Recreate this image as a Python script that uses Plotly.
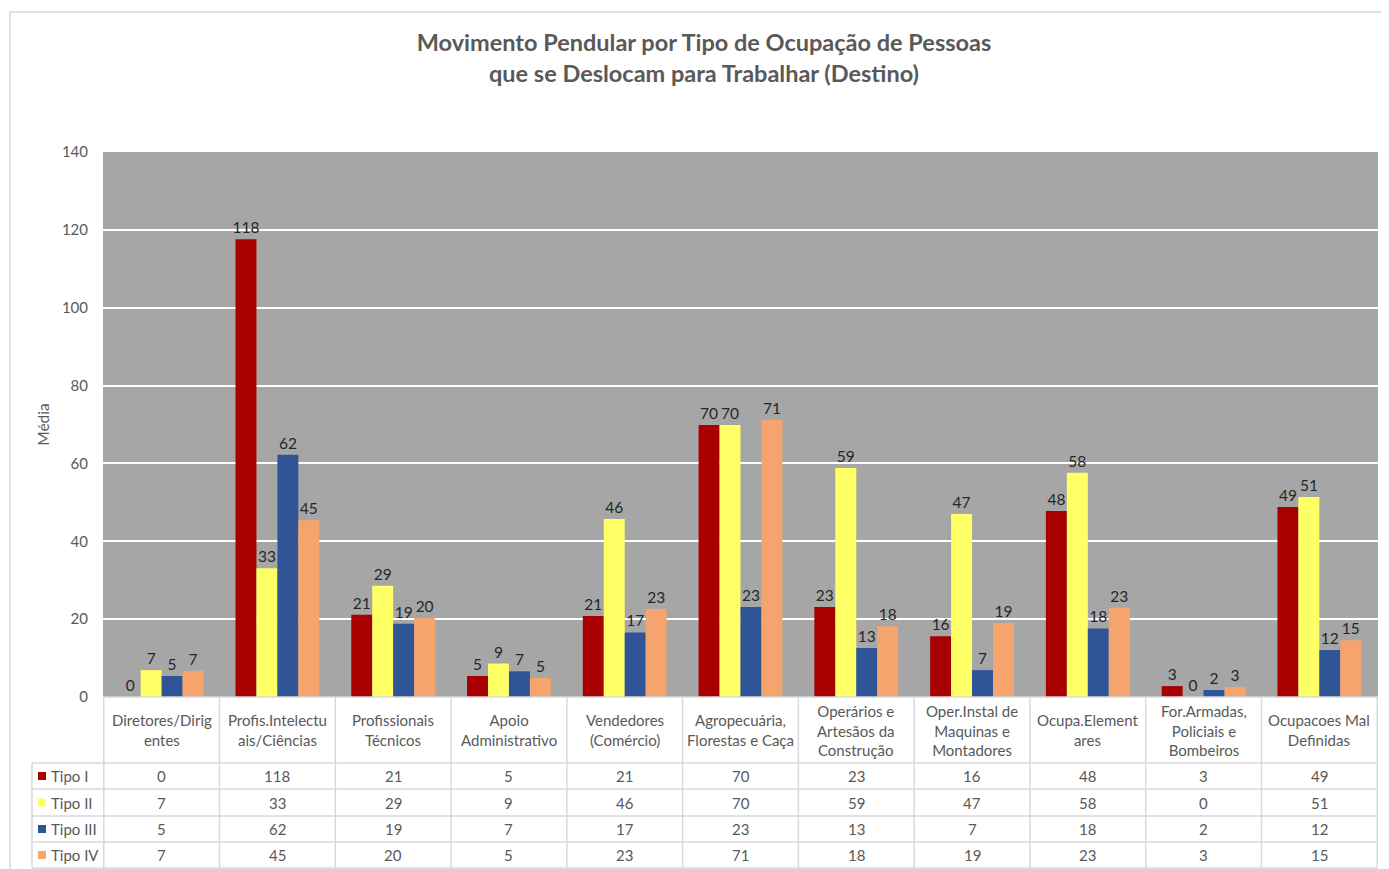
import plotly.graph_objects as go

# --- data -------------------------------------------------------------
categories = [
    "Diretores/Dirig<br>entes",
    "Profis.Intelectu<br>ais/Ciências",
    "Profissionais<br>Técnicos",
    "Apoio<br>Administrativo",
    "Vendedores<br>(Comércio)",
    "Agropecuária,<br>Florestas e Caça",
    "Operários e<br>Artesãos da<br>Construção",
    "Oper.Instal de<br>Maquinas e<br>Montadores",
    "Ocupa.Element<br>ares",
    "For.Armadas,<br>Policiais e<br>Bombeiros",
    "Ocupacoes Mal<br>Definidas",
]
series_names = ["Tipo I", "Tipo II", "Tipo III", "Tipo IV"]
tipo_1 = [0, 117.6, 21.1, 5.4, 20.8, 69.9, 23.1, 15.6, 47.8, 2.8, 48.8]
tipo_2 = [6.9, 33.1, 28.6, 8.6, 45.7, 69.9, 58.8, 47.0, 57.6, 0, 51.4]
tipo_3 = [5.4, 62.2, 18.8, 6.6, 16.6, 23.1, 12.6, 6.9, 17.6, 1.8, 12.1]
tipo_4 = [6.7, 45.4, 20.3, 4.9, 22.6, 71.2, 18.2, 19.0, 22.9, 2.6, 14.6]
series_values = [tipo_1, tipo_2, tipo_3, tipo_4]
colors = ["#A80000", "#FFFF66", "#2F5597", "#F4A46C"]

FONT = "Lato"
GRAY = "#595959"
LINE = "#D9D9D9"

# the page puts the figure 8px in from the top-left corner
OFF = 8
W, H = 1389 - OFF, 869 - OFF
# plot area in screen pixels: x 103..1378, y 152..697
L, R, T, B = 103 - OFF, 11, 152 - OFF, 172
PW, PH = W - L - R, H - T - B


def px(x):
    return (x - 103) / PW


def py(y):
    return (697 - y) / PH


fig = go.Figure()
for name, vals, col in zip(series_names, series_values, colors):
    fig.add_trace(go.Bar(
        x=categories, y=vals, name=name, marker_color=col,
        marker_line_width=0,
        text=vals, texttemplate="%{y:.0f}", textposition="outside",
        textfont=dict(family=FONT, size=15.5, color="#262626"),
        constraintext="none", cliponaxis=False, showlegend=False,
    ))

shapes = []
annotations = []

# outer chart border
shapes.append(dict(type="rect", xref="paper", yref="paper",
                   x0=px(10), x1=px(1392), y0=py(872), y1=py(12),
                   line=dict(color=LINE, width=1.5), layer="below"))

# data table grid
row_edges = [697, 763, 789, 816, 842, 868]
for i, yy in enumerate(row_edges):
    x0 = 103 if i == 0 else 32
    shapes.append(dict(type="line", xref="paper", yref="paper",
                       x0=px(x0), x1=px(1378), y0=py(yy), y1=py(yy),
                       line=dict(color=LINE, width=1.5)))
shapes.append(dict(type="line", xref="paper", yref="paper",
                   x0=px(32), x1=px(32), y0=py(763), y1=py(868),
                   line=dict(color=LINE, width=1.5)))
for k in range(len(categories) + 1):
    shapes.append(dict(type="line", xref="x", yref="paper",
                       x0=k - 0.5, x1=k - 0.5, y0=py(697), y1=py(868),
                       line=dict(color=LINE, width=1.5)))

# header row: category names
for cat in categories:
    annotations.append(dict(x=cat, xref="x", y=py(730), yref="paper",
                            text=cat, showarrow=False, yanchor="middle",
                            font=dict(family=FONT, size=15, color=GRAY)))

# value rows + key
row_centers = [776, 802.5, 829, 855]
for name, vals, col, yc in zip(series_names, series_values, colors, row_centers):
    shapes.append(dict(type="rect", xref="paper", yref="paper",
                       x0=px(38), x1=px(46), y0=py(yc - 4), y1=py(yc + 4),
                       fillcolor=col, line_width=0))
    annotations.append(dict(x=px(49), xref="paper", y=py(yc), yref="paper",
                            text=name, showarrow=False, xanchor="left",
                            yanchor="middle",
                            font=dict(family=FONT, size=15, color=GRAY)))
    for cat, v in zip(categories, vals):
        annotations.append(dict(x=cat, xref="x", y=py(yc), yref="paper",
                                text=f"{v:.0f}", showarrow=False,
                                yanchor="middle",
                                font=dict(family=FONT, size=15, color=GRAY)))

fig.update_layout(
    width=W, height=H,
    margin=dict(l=L, r=R, t=T, b=B),
    paper_bgcolor="white",
    plot_bgcolor="#A6A6A6",
    barmode="group", bargap=0.276, bargroupgap=0,
    title=dict(
        text="<b>Movimento Pendular por Tipo de Ocupação de Pessoas<br>"
             "que se Deslocam para Trabalhar (Destino)</b>",
        x=(704 - OFF) / W, xanchor="center",
        y=1 - (51 - OFF) / H, yanchor="middle",
        font=dict(family=FONT, size=23.5, color=GRAY),
    ),
    shapes=shapes,
    annotations=annotations,
    font=dict(family=FONT),
)
fig.update_xaxes(showticklabels=False, showgrid=False, zeroline=False,
                 showline=False, ticks="")
fig.update_yaxes(range=[0, 140], dtick=20, showgrid=True, gridcolor="white",
                 gridwidth=1.5, zeroline=False, showline=False,
                 tickfont=dict(family=FONT, size=15, color=GRAY),
                 ticklabelstandoff=14,
                 title=dict(text="Média", standoff=8,
                            font=dict(family=FONT, size=15.5, color=GRAY)))

fig.write_html("out.html")
